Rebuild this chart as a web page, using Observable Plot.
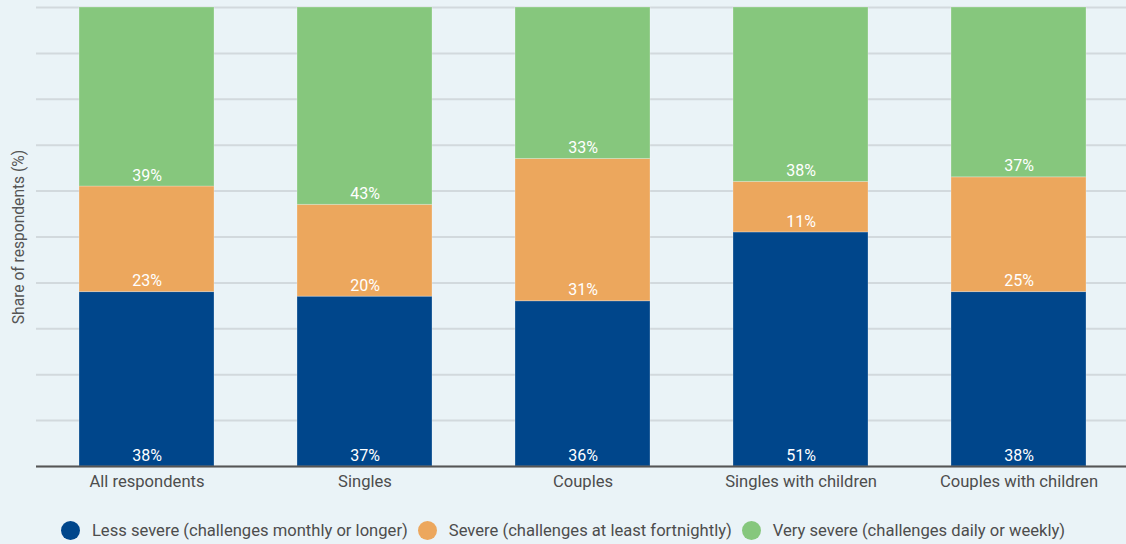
<!DOCTYPE html>
<html>
<head>
<meta charset="utf-8">
<script src="https://cdn.jsdelivr.net/npm/d3@7"></script>
<script src="https://cdn.jsdelivr.net/npm/@observablehq/plot@0.6"></script>
<style>
  html, body { margin: 0; padding: 0; background: #eaf3f7; }
  body { width: 1126px; height: 544px; overflow: hidden; font-family: Roboto, "Noto Sans", sans-serif; }
  #legend { display: flex; justify-content: center; margin-top: 21px; font-size: 16.6px; color: #4d4d4d; }
  .item { display: flex; align-items: center; margin: 0 5px; }
  .dot { width: 19px; height: 19px; border-radius: 50%; margin-right: 12px; }
</style>
</head>
<body>
<div id="chart"></div>
<div id="legend"></div>
<script>
const categories = ["All respondents", "Singles", "Couples", "Singles with children", "Couples with children"];
const seriesNames = ["Less severe (challenges monthly or longer)", "Severe (challenges at least fortnightly)", "Very severe (challenges daily or weekly)"];
const lessSevere = [38, 37, 36, 51, 38];
const severe = [23, 20, 31, 11, 25];
const verySevere = [39, 43, 33, 38, 37];
const colors = ["#00468b", "#eca75d", "#86c77d"];
const gridTicks = [0, 10, 20, 30, 40, 50, 60, 70, 80, 90, 100];

const seriesValues = [lessSevere, severe, verySevere];
const data = [];
categories.forEach((c, i) => {
  seriesNames.forEach((s, j) => data.push({category: c, series: s, value: seriesValues[j][i]}));
});

const chart = Plot.plot({
  width: 1126,
  height: 500,
  marginTop: 7,
  marginBottom: 34,
  marginLeft: 36,
  marginRight: -3,
  style: {background: "#eaf3f7", fontFamily: "Roboto, 'Noto Sans', sans-serif", overflow: "hidden"},
  x: {domain: categories, paddingInner: 0.38, paddingOuter: 0.19, label: null},
  y: {domain: [0, 100], axis: null},
  color: {domain: seriesNames, range: colors},
  marks: [
    Plot.gridY(gridTicks, {stroke: "#d2d9dd", strokeOpacity: 1, strokeWidth: 2}),
    Plot.barY(data, Plot.stackY({x: "category", y: "value", fill: "series", z: "series", order: null, stroke: "#ffffff", strokeOpacity: 0.25, strokeWidth: 1})),
    Plot.text(data, Plot.stackY1({x: "category", y: "value", z: "series", order: null, text: d => d.value + "%", fill: "white", fontSize: 16, dy: -11})),
    Plot.ruleY([0], {stroke: "#555", strokeWidth: 2}),
    Plot.axisX({tickSize: 0, tickPadding: 9, fontSize: 16.6, color: "#4d4d4d", label: null}),
    Plot.text(["Share of respondents (%)"], {frameAnchor: "left", textAnchor: "middle", rotate: -90, dx: -18, fontSize: 15.6, fill: "#555"})
  ]
});
document.getElementById("chart").appendChild(chart);

const legend = document.getElementById("legend");
seriesNames.forEach((s, j) => {
  const item = document.createElement("div");
  item.className = "item";
  const dot = document.createElement("span");
  dot.className = "dot";
  dot.style.background = colors[j];
  const label = document.createElement("span");
  label.textContent = s;
  item.appendChild(dot);
  item.appendChild(label);
  legend.appendChild(item);
});
</script>
</body>
</html>
